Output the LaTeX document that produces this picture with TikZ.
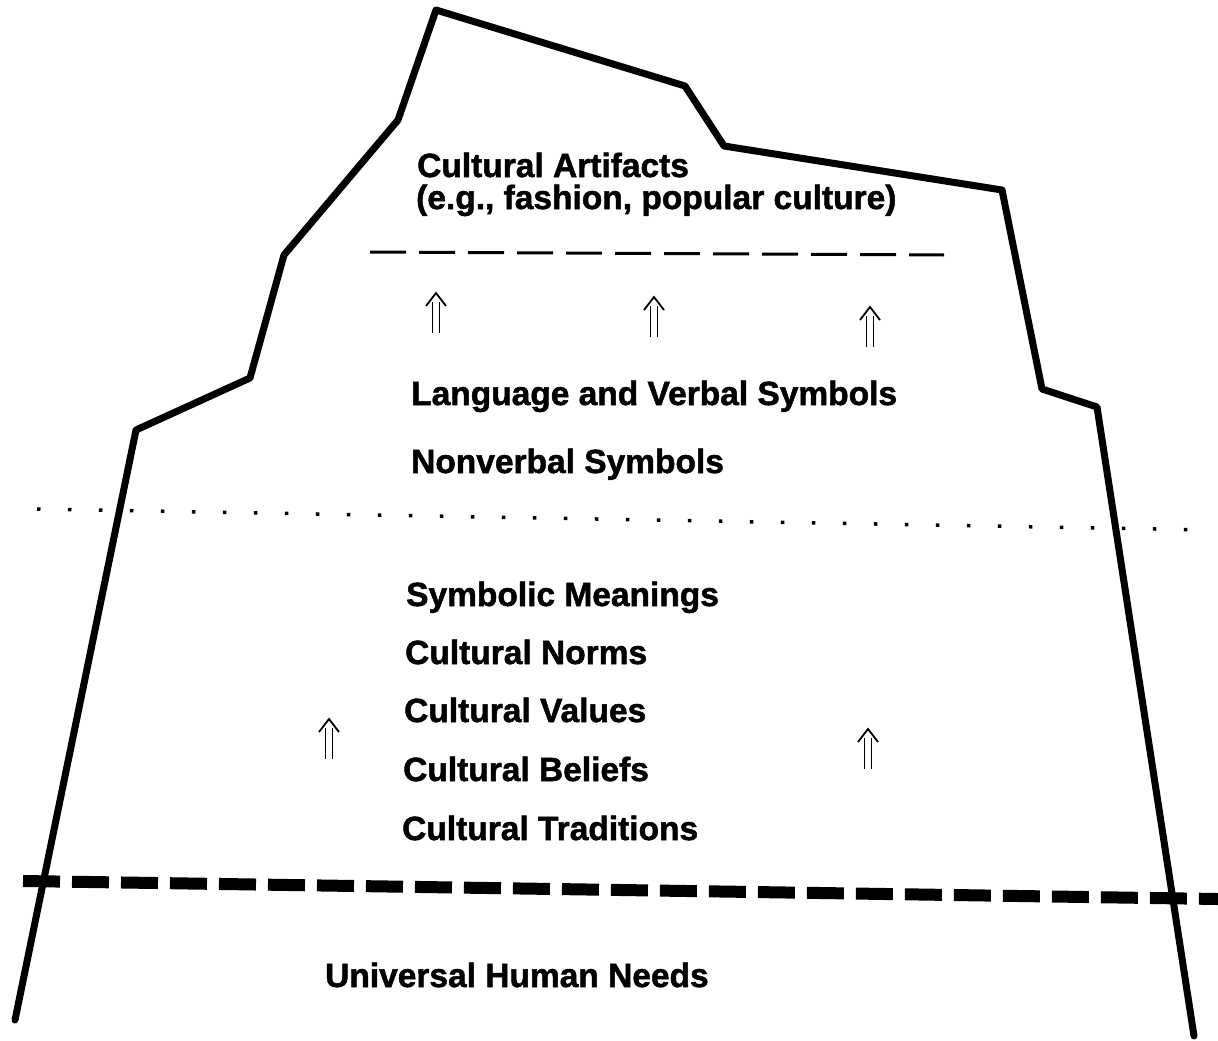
\documentclass[tikz,border=0pt]{standalone}
\usepackage{fontspec}
\setmainfont{Liberation Sans}
\newfontfamily\heavy[BoldFeatures={FakeBold=1.5}]{Liberation Sans}
\begin{document}
\begin{tikzpicture}[x=1pt,y=-1pt,
  lbl/.style={anchor=base west,inner sep=0pt,font=\fontsize{33.5}{36}\heavy\bfseries},
  outline/.style={line width=7pt,line join=round,line cap=round},
  thindash/.style={line width=3pt,dash pattern=on 36pt off 13pt},
  dotline/.style={line width=3.5pt,dash pattern=on 3.5pt off 27.5pt},
  thickdash/.style={line width=12pt,dash pattern=on 37pt off 12pt},
  uparr/.pic={
    \draw[line width=1.7pt] (-3.5,0) -- (-3.5,-31);
    \draw[line width=1.7pt] (3.5,0) -- (3.5,-31);
    \draw[line width=1.8pt,line join=miter] (-10,-27) -- (0,-40) -- (10,-27);
  }]
\useasboundingbox (0,0) rectangle (1218,1041);
% iceberg outline
\coordinate (b1) at (15,1020);
\coordinate (p1) at (136,430);
\coordinate (p2) at (250,378);
\coordinate (p3) at (284,255);
\coordinate (p4) at (398,120);
\coordinate (p5) at (436,10);
\coordinate (p6) at (685,86);
\coordinate (p7) at (724,146);
\coordinate (p8) at (1002,190);
\coordinate (p9) at (1042,389);
\coordinate (p10) at (1097,407);
\coordinate (b2) at (1194,1036);
\draw[outline] (b1) -- (p1) -- (p2) -- (p3) -- (p4) -- (p5) -- (p6) -- (p7) -- (p8) -- (p9) -- (p10) -- (b2);
% separating lines
\coordinate (d1a) at (370,252);
\coordinate (d1b) at (944,255);
\draw[thindash] (d1a) -- (d1b);
\coordinate (d2a) at (37,509);
\coordinate (d2b) at (1212,530);
\draw[dotline] (d2a) -- (d2b);
\coordinate (d3a) at (23,881);
\coordinate (d3b) at (1218,899);
\draw[thickdash] (d3a) -- (d3b);
% labels
\node[lbl] (art1) at (417,177) {Cultural Artifacts};
\node[lbl] (art2) at (416,209) {(e.g., fashion, popular culture)};
\node[lbl] (lang) at (411,405) {Language and Verbal Symbols};
\node[lbl] (nonv) at (411,473) {Nonverbal Symbols};
\node[lbl] (symb) at (406,606) {Symbolic Meanings};
\node[lbl] (norm) at (405,664) {Cultural Norms};
\node[lbl] (valu) at (404,722) {Cultural Values};
\node[lbl] (beli) at (403,781) {Cultural Beliefs};
\node[lbl] (trad) at (402,840) {Cultural Traditions};
\node[lbl] (univ) at (325,987) {Universal Human Needs};
% arrows
\pic at (436,333) {uparr};
\pic at (654,337) {uparr};
\pic at (870,347) {uparr};
\pic at (329,759) {uparr};
\pic at (868,769) {uparr};
\end{tikzpicture}
\end{document}
